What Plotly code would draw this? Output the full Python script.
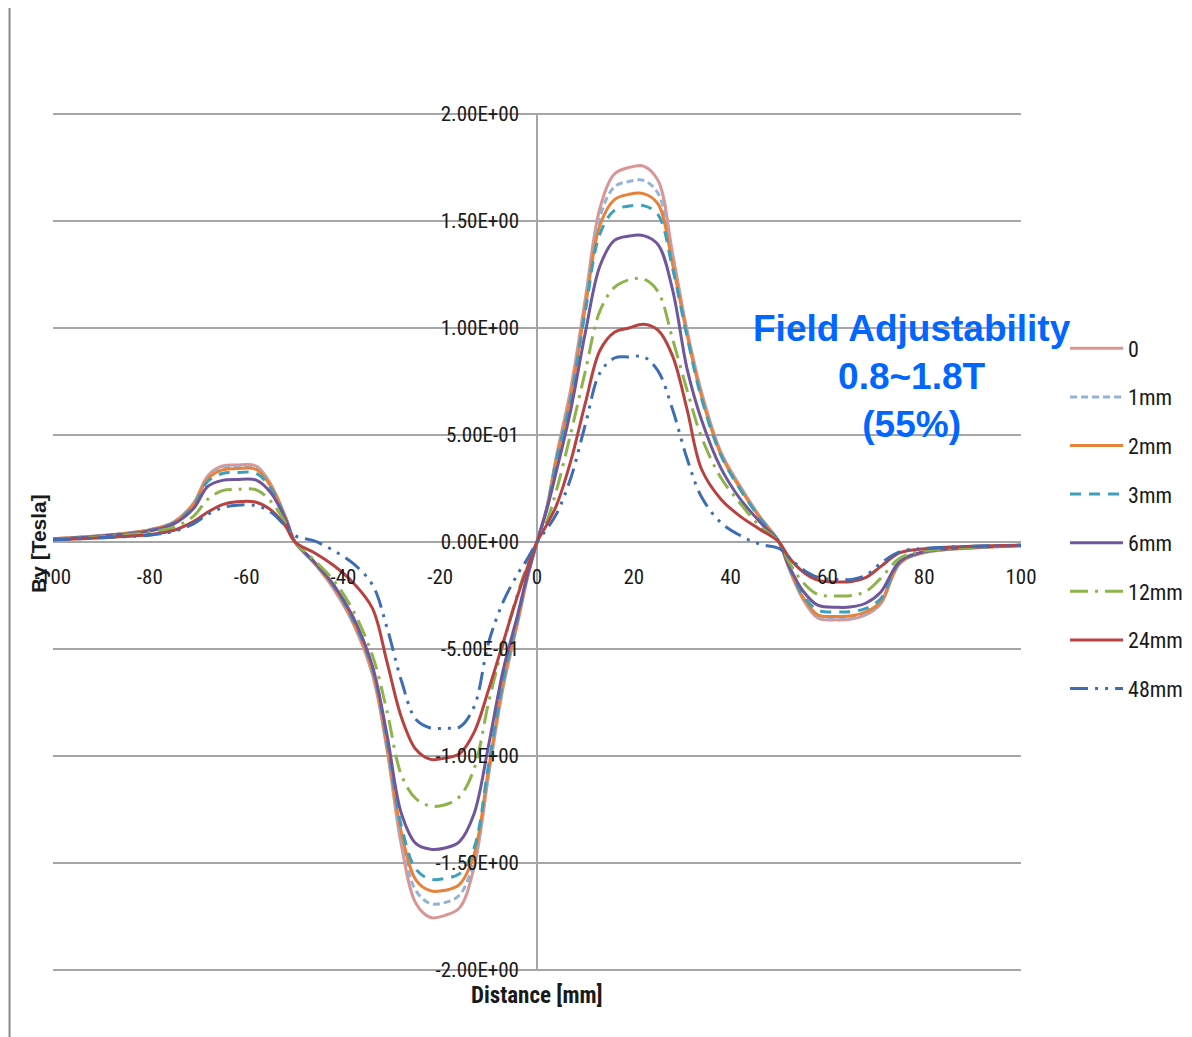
import plotly.graph_objects as go

# distance along the axis [mm]
x_mm = [-100, -90, -80, -75, -71, -68, -65, -62, -58, -55,
        -52, -50, -46, -42, -38, -34, -31, -28, -25, -22,
        -19, -16, -13, -10, -7, -4, -2, 0, 2, 4,
        7, 10, 13, 16, 19, 22, 25, 28, 31, 34,
        38, 42, 46, 50, 52, 55, 58, 62, 65, 68,
        71, 75, 80, 90, 100]

# By [Tesla] for each gap setting
by_0 = [0.015, 0.03, 0.058, 0.095, 0.18, 0.31, 0.355, 0.36, 0.355, 0.27,
        0.12, 0.0, -0.1, -0.22, -0.38, -0.62, -0.97, -1.42, -1.69, -1.755,
        -1.745, -1.71, -1.52, -1.09, -0.68, -0.38, -0.17, 0.0, 0.16, 0.40,
        0.72, 1.14, 1.56, 1.72, 1.75, 1.757, 1.69, 1.35, 0.99, 0.70,
        0.42, 0.26, 0.12, 0.0, -0.12, -0.27, -0.355, -0.364, -0.36, -0.34,
        -0.29, -0.10, -0.05, -0.028, -0.018]
by_1 = [0.015, 0.03, 0.057, 0.093, 0.177, 0.303, 0.346, 0.352, 0.347, 0.265,
        0.118, 0.0, -0.1, -0.215, -0.375, -0.61, -0.96, -1.39, -1.63, -1.69,
        -1.685, -1.65, -1.49, -1.08, -0.67, -0.37, -0.165, 0.0, 0.158, 0.39,
        0.69, 1.12, 1.52, 1.66, 1.685, 1.69, 1.63, 1.32, 0.98, 0.69,
        0.415, 0.255, 0.118, 0.0, -0.118, -0.265, -0.347, -0.357, -0.353, -0.333,
        -0.285, -0.098, -0.049, -0.027, -0.018]
by_2 = [0.015, 0.029, 0.056, 0.092, 0.174, 0.296, 0.337, 0.343, 0.339, 0.26,
        0.116, 0.0, -0.098, -0.21, -0.37, -0.6, -0.95, -1.36, -1.58, -1.63,
        -1.628, -1.6, -1.46, -1.06, -0.66, -0.365, -0.162, 0.0, 0.156, 0.385,
        0.68, 1.1, 1.48, 1.6, 1.625, 1.628, 1.58, 1.3, 0.97, 0.68,
        0.41, 0.25, 0.116, 0.0, -0.116, -0.26, -0.34, -0.348, -0.345, -0.326,
        -0.28, -0.096, -0.048, -0.027, -0.017]
by_3 = [0.014, 0.029, 0.055, 0.09, 0.168, 0.284, 0.32, 0.325, 0.321, 0.25,
        0.113, 0.0, -0.096, -0.205, -0.365, -0.59, -0.93, -1.33, -1.53, -1.576,
        -1.572, -1.55, -1.43, -1.04, -0.65, -0.36, -0.16, 0.0, 0.154, 0.38,
        0.67, 1.08, 1.44, 1.55, 1.57, 1.572, 1.53, 1.28, 0.96, 0.67,
        0.405, 0.245, 0.113, 0.0, -0.112, -0.25, -0.318, -0.327, -0.325, -0.31,
        -0.265, -0.094, -0.047, -0.026, -0.017]
by_6 = [0.013, 0.027, 0.052, 0.085, 0.155, 0.26, 0.288, 0.292, 0.289, 0.23,
        0.108, 0.0, -0.093, -0.2, -0.35, -0.58, -0.9, -1.27, -1.41, -1.436,
        -1.43, -1.4, -1.27, -0.95, -0.6, -0.34, -0.155, 0.0, 0.15, 0.33,
        0.62, 0.98, 1.29, 1.41, 1.43, 1.432, 1.39, 1.18, 0.81, 0.57,
        0.345, 0.2, 0.095, 0.0, -0.108, -0.23, -0.295, -0.305, -0.303, -0.285,
        -0.235, -0.09, -0.045, -0.025, -0.016]
by_12 = [0.012, 0.024, 0.045, 0.07, 0.12, 0.2, 0.24, 0.246, 0.244, 0.19,
         0.09, 0.0, -0.085, -0.18, -0.32, -0.53, -0.79, -1.09, -1.2, -1.234,
         -1.228, -1.19, -1.06, -0.75, -0.48, -0.24, -0.11, 0.0, 0.095, 0.24,
         0.51, 0.8, 1.08, 1.19, 1.225, 1.229, 1.17, 0.95, 0.71, 0.49,
         0.3, 0.18, 0.075, 0.0, -0.09, -0.19, -0.245, -0.252, -0.25, -0.23,
         -0.17, -0.075, -0.042, -0.024, -0.015]
by_24 = [0.01, 0.02, 0.035, 0.055, 0.095, 0.14, 0.175, 0.188, 0.186, 0.15,
         0.075, 0.0, -0.05, -0.11, -0.19, -0.31, -0.56, -0.82, -0.97, -1.016,
         -1.01, -0.99, -0.89, -0.69, -0.47, -0.25, -0.12, 0.0, 0.08, 0.17,
         0.38, 0.65, 0.895, 0.98, 1.0, 1.018, 0.99, 0.87, 0.62, 0.34,
         0.2, 0.12, 0.06, 0.0, -0.07, -0.14, -0.178, -0.187, -0.185, -0.165,
         -0.115, -0.05, -0.032, -0.02, -0.015]
by_48 = [0.01, 0.02, 0.032, 0.05, 0.085, 0.13, 0.16, 0.172, 0.17, 0.14,
         0.075, 0.03, 0.005, -0.04, -0.1, -0.2, -0.4, -0.65, -0.83, -0.869,
         -0.87, -0.865, -0.77, -0.47, -0.28, -0.15, -0.08, 0.0, 0.06, 0.13,
         0.3, 0.55, 0.79, 0.86, 0.865, 0.866, 0.8, 0.62, 0.39, 0.21,
         0.09, 0.03, -0.01, -0.03, -0.07, -0.13, -0.165, -0.175, -0.175, -0.155,
         -0.1, -0.045, -0.03, -0.02, -0.015]

series_names = ["0", "1mm", "2mm", "3mm", "6mm", "12mm", "24mm", "48mm"]
series_values = [by_0, by_1, by_2, by_3, by_6, by_12, by_24, by_48]

x_ticks = [-100, -80, -60, -40, -20, 0, 20, 40, 60, 80, 100]
x_tick_labels = ["-100", "-80", "-60", "-40", "-20", "0", "20", "40", "60", "80", "100"]
y_ticks = [-2, -1.5, -1, -0.5, 0, 0.5, 1, 1.5, 2]
y_tick_labels = ["-2.00E+00", "-1.50E+00", "-1.00E+00", "-5.00E-01", "0.00E+00",
                 "5.00E-01", "1.00E+00", "1.50E+00", "2.00E+00"]

colors = ["#d99694", "#95b3d7", "#e6823a", "#3e9fba", "#70569b", "#8db44a", "#b84240", "#3e6db5"]
dashes = ["solid", "7px,4px", "solid", "11px,8px", "solid",
          "18px,7px,3px,7px", "solid", "18px,7px,3px,7px,3px,7px"]

narrow = "Roboto Condensed, Liberation Sans Narrow, sans-serif"

fig = go.Figure()
for name, vals, col, dsh in zip(series_names, series_values, colors, dashes):
    fig.add_trace(go.Scatter(
        x=x_mm, y=vals, mode="lines", name=name, legendgroup=name,
        line=dict(color=col, width=3, dash=dsh, shape="spline", smoothing=1.0),
    ))

# page body adds an 8px offset, so the figure is 8px smaller and margins shifted
fig.update_layout(
    width=1184, height=1029,
    margin=dict(l=45, r=171, t=105, b=66, autoexpand=False),
    paper_bgcolor="white", plot_bgcolor="white",
    font=dict(family=narrow, size=21, color="#1a1a1a"),
    showlegend=True,
    legend=dict(x=1.0455, y=0.75, xanchor="left", yanchor="top",
                bgcolor="rgba(0,0,0,0)", itemwidth=53, tracegroupgap=17,
                font=dict(family=narrow, size=22, color="#1a1a1a")),
    xaxis=dict(range=[-100, 100], anchor="free", position=0.5,
               tickvals=x_ticks, ticktext=x_tick_labels, ticks="",
               ticklabelstandoff=20, showgrid=False,
               zeroline=True, zerolinecolor="#a6a6a6", zerolinewidth=1.5,
               showline=False),
    # tiny padding so the +/-2 gridlines are not clipped at the plot edge
    yaxis=dict(range=[-2.005, 2.005], anchor="free", position=0.5,
               tickvals=y_ticks, ticktext=y_tick_labels, ticks="",
               ticklabelstandoff=18, showgrid=True, gridcolor="#a6a6a6", gridwidth=1.5,
               zeroline=True, zerolinecolor="#a6a6a6", zerolinewidth=1.5,
               showline=False),
)

# axis titles
fig.add_annotation(text="<b>Distance [mm]</b>", x=0, xref="x", y=-0.029, yref="paper",
                   showarrow=False, xanchor="center", yanchor="middle",
                   font=dict(family=narrow, size=23, color="#1a1a1a"))
fig.add_annotation(text="<b>By [Tesla]</b>", x=-0.0155, xref="paper", y=0.4988, yref="paper",
                   showarrow=False, textangle=-90, xanchor="center", yanchor="middle",
                   font=dict(family="Liberation Sans, Arial, sans-serif", size=21, color="#1a1a1a"))

# callout text
fig.add_annotation(text="<b>Field Adjustability<br>0.8~1.8T<br>(55%)</b>", x=77.5, xref="x", y=0.774, yref="y",
                   showarrow=False, align="center", xanchor="center", yanchor="middle",
                   font=dict(family="Liberation Sans, Arial, sans-serif", size=37, color="#0066ff"))

# slide border on the left
fig.add_shape(type="line", xref="paper", yref="paper", x0=-0.0449, x1=-0.0449, y0=-0.077, y1=1.123,
              line=dict(color="#8a8a8a", width=2))

fig.write_html("out.html")
